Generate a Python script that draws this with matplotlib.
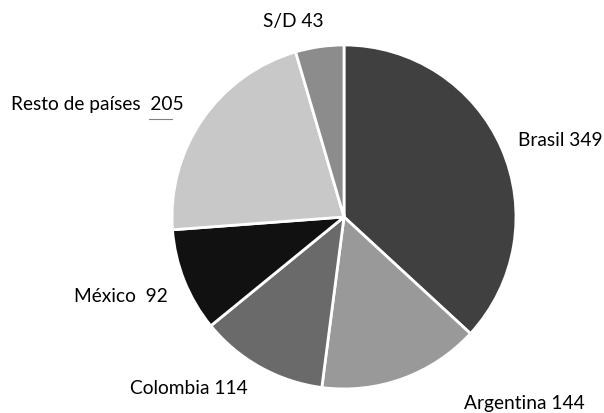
import matplotlib
matplotlib.use("Agg")
import matplotlib.pyplot as plt

# Data
paises = ["Brasil", "Argentina", "Colombia", "México", "Resto de países", "S/D"]
valores = [349, 144, 114, 92, 205, 43]
etiquetas = ["Brasil 349", "Argentina 144", "Colombia 114", "México  92",
             "Resto de países  205", "S/D 43"]
colores = ["#404040", "#999999", "#6a6a6a", "#111111", "#c8c8c8", "#8c8c8c"]

# label positions (data units, pie radius = 1)
pos_etiquetas = [(1.01, 0.45, "left"), (1.05, -1.076, "center"),
                 (-0.90, -0.994, "center"), (-1.30, -0.459, "center"),
                 (-1.436, 0.657, "center"), (-0.297, 1.14, "center")]

plt.rcParams["font.family"] = ["Lato", "DejaVu Sans"]

fig = plt.figure(figsize=(6.04, 4.14), dpi=100)
ax = fig.add_axes([0.2848, 0.058, 0.5695, 0.831])
ax.pie(valores, colors=colores, startangle=90, counterclock=False,
       wedgeprops=dict(edgecolor="white", linewidth=2), radius=1)
ax.set_xlim(-1, 1)
ax.set_ylim(-1, 1)
ax.set_aspect("equal")
ax.axis("off")

for txt, (x, y, ha) in zip(etiquetas, pos_etiquetas):
    ax.text(x, y, txt, ha=ha, va="center", fontsize=13.8, color="black",
            clip_on=False)

# leader line for "Resto de países"
ax.plot([-1.135, -1.0], [0.572, 0.572], color="#808080", lw=0.8, clip_on=False)

fig.savefig("out.png", dpi=100)
